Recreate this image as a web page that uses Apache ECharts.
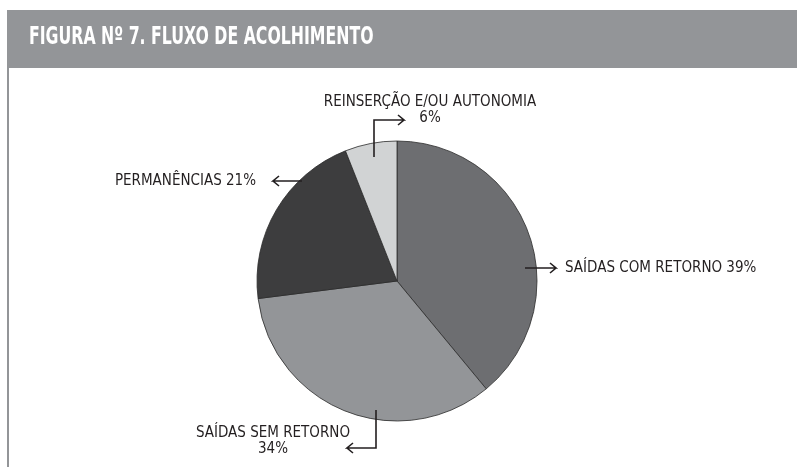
<!DOCTYPE html>
<html>
<head>
<meta charset="utf-8">
<script src="https://cdn.jsdelivr.net/npm/echarts@6/dist/echarts.min.js"></script>
<style>
  html, body { margin: 0; padding: 0; background: #fff; }
  #chart { width: 797px; height: 467px; }
</style>
</head>
<body>
<div id="chart"></div>
<script>
// data
const categories = ['SAÍDAS COM RETORNO', 'SAÍDAS SEM RETORNO', 'PERMANÊNCIAS', 'REINSERÇÃO E/OU AUTONOMIA'];
const values = [39, 34, 21, 6];
const labelBreaks = [' ', '\n', ' ', '\n'];
const sliceColors = ['#6d6e71', '#939598', '#3d3d3e', '#d1d3d4'];

// label placement (pixels) and arrow paths
const labelSpots = [
  { x: 565, y: 268, align: 'left' },
  { x: 273, y: 441, align: 'center' },
  { x: 256, y: 181, align: 'right' },
  { x: 430, y: 110, align: 'center' }
];
const arrowPaths = [
  [[525, 268], [556, 268], 'right'],
  [[376, 410], [376, 448], [347, 448], 'left'],
  [[302, 181], [273, 181], 'left'],
  [[374, 157], [374, 120], [404, 120], 'right']
];

function withHead(path) {
  const pts = path.slice(0, -1);
  const dir = path[path.length - 1];
  const tip = pts[pts.length - 1];
  const d = dir === 'right' ? -6 : 6;
  return pts.concat([[tip[0] + d, tip[1] - 5], tip, [tip[0] + d, tip[1] + 5]]);
}

const arrows = arrowPaths.map(p => ({
  type: 'polyline',
  z: 100,
  shape: { points: withHead(p) },
  style: { stroke: '#231f20', lineWidth: 1.6, fill: null }
}));

const chart = echarts.init(document.getElementById('chart'));

chart.setOption({
  animation: false,
  graphic: [
    { type: 'rect', left: 7, top: 10, shape: { width: 790, height: 58 }, style: { fill: '#939598' } },
    { type: 'rect', left: 7, top: 68, shape: { width: 2, height: 399 }, style: { fill: '#939598' } },
    {
      type: 'text', x: 29, y: 25, scaleX: 0.7,
      style: {
        text: 'FIGURA Nº 7. FLUXO DE ACOLHIMENTO',
        fill: '#ffffff',
        font: 'bold 25px "DejaVu Sans Condensed", sans-serif'
      }
    }
  ].concat(arrows),
  series: [
    {
      type: 'pie',
      center: [397, 281],
      radius: 140,
      startAngle: 90,
      clockwise: true,
      data: categories.map((name, i) => ({
        name: name,
        value: values[i],
        itemStyle: { color: sliceColors[i] }
      })),
      itemStyle: { borderColor: '#2b2b2b', borderWidth: 0.8 },
      emphasis: { disabled: true },
      label: {
        show: true,
        position: 'outside',
        color: '#231f20',
        fontSize: 15,
        lineHeight: 16,
        fontFamily: '"DejaVu Sans Condensed", sans-serif',
        formatter: p => p.name + labelBreaks[p.dataIndex] + p.value + '%'
      },
      labelLine: { show: false },
      labelLayout: p => {
        const s = labelSpots[p.dataIndex];
        return { x: s.x, y: s.y, align: s.align, verticalAlign: 'middle' };
      }
    }
  ]
});
</script>
</body>
</html>
